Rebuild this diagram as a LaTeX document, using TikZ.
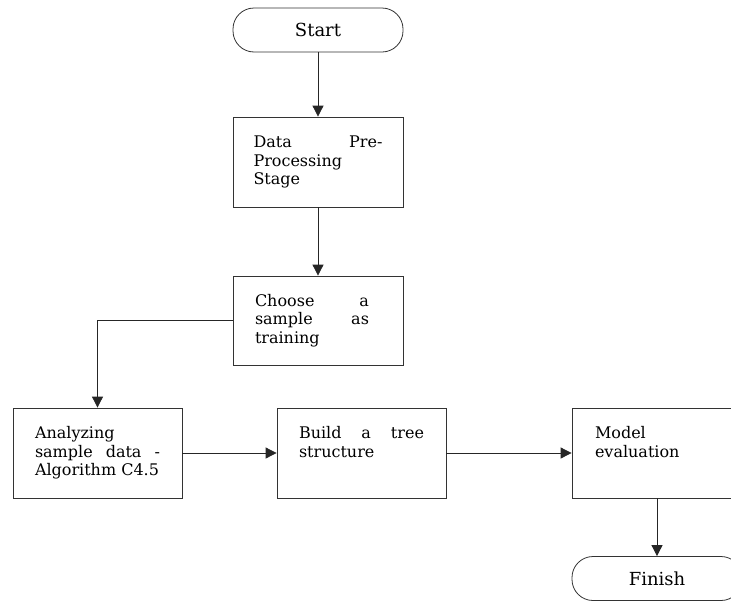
\documentclass[tikz,border=0pt]{standalone}
\usepackage{fontspec}
\setmainfont{DejaVu Serif}
\usetikzlibrary{arrows.meta}
\newcommand{\stagetext}[2]{\parbox[c][54pt][t]{#1}{\strut#2}}
\begin{document}
\begin{tikzpicture}[x=1pt,y=-1pt,
  stage/.style={draw=black!80,line width=0.8pt,minimum width=170pt,minimum height=90pt,inner sep=0pt,font=\fontsize{16}{18.5}\selectfont},
  term/.style={draw=black!80,line width=0.8pt,rounded corners=21pt,minimum width=170pt,minimum height=44pt,inner sep=0pt,font=\fontsize{18}{20}\selectfont},
  flow/.style={draw=black!85,line width=0.8pt,-{Triangle[length=11pt,width=11pt]}}]
\useasboundingbox (0,0) rectangle (731,600);
\node[term] (start) at (318,30) {Start};
\node[stage] (prep) at (318,162) {\stagetext{129pt}{Data\hfill Pre-\\Processing\\Stage}};
\node[stage,minimum height=89pt] (choose) at (318,320.5) {\stagetext{126pt}{\parbox[t]{114pt}{\strut Choose\hfill a\\sample\hfill as\\training}\hfill}};
\node[stage,minimum width=169pt] (analyze) at (97.5,453) {\stagetext{125pt}{Analyzing\\sample\hfill data\hfill -\\Algorithm C4.5}};
\node[stage,minimum width=169pt] (build) at (361.5,453) {\stagetext{125pt}{Build\hfill a\hfill tree\\structure}};
\node[stage] (model) at (657,453) {\stagetext{124pt}{Model\\evaluation}};
\node[term] (finish) at (657,578.5) {Finish};
\draw[flow] (start) -- (prep);
\draw[flow] (prep) -- (choose);
\draw[flow] (choose.west) -| (analyze.north);
\draw[flow] (analyze) -- (build);
\draw[flow] (build) -- (model);
\draw[flow] (model) -- (finish);
\end{tikzpicture}
\end{document}
